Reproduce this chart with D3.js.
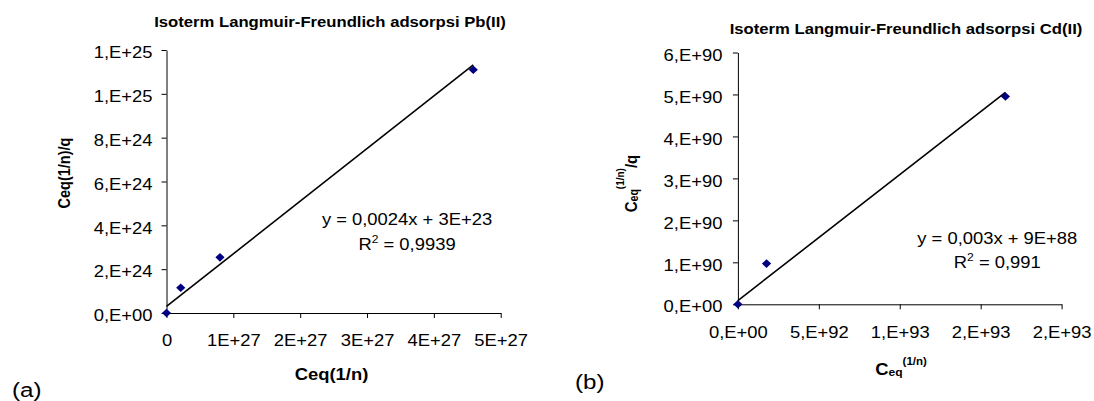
<!DOCTYPE html>
<html><head><meta charset="utf-8">
<script src="https://cdn.jsdelivr.net/npm/d3@7"></script>
<style>
body{margin:0;background:#fff}
svg text{font-family:Arial,"Liberation Sans",sans-serif;fill:#000}
</style>
</head><body>
<svg id="c" width="1094" height="401"></svg>
<script>
// ---------- DATA ----------
// Panel (a): Pb(II)
const pbTitle = "Isoterm Langmuir-Freundlich adsorpsi Pb(II)";
const pbX = [0, 2.13e26, 8.0e26, 4.59e27];
const pbY = [0, 1.155e24, 2.54e24, 1.11e25];
const pbSlope = 0.0024, pbIntercept = 3e23;
const pbEquation = "y = 0,0024x + 3E+23";
const pbR2 = "0,9939";
const pbXTicks = [0, 1e27, 2e27, 3e27, 4e27, 5e27];
const pbXTickLabels = ["0", "1E+27", "2E+27", "3E+27", "4E+27", "5E+27"];
const pbYTicks = [0, 2e24, 4e24, 6e24, 8e24, 1e25, 1.2e25];
const pbYTickLabels = ["0,E+00", "2,E+24", "4,E+24", "6,E+24", "8,E+24", "1,E+25", "1,E+25"];

// Panel (b): Cd(II)
const cdTitle = "Isoterm Langmuir-Freundlich adsorpsi Cd(II)";
const cdX = [0, 1.77e92, 1.653e93];
const cdY = [0, 0.97e90, 4.95e90];
const cdSlope = 0.003, cdIntercept = 9e88;
const cdEquation = "y = 0,003x + 9E+88";
const cdR2 = "0,991";
const cdXTicks = [0, 5e92, 1e93, 1.5e93, 2e93];
const cdXTickLabels = ["0,E+00", "5,E+92", "1,E+93", "2,E+93", "2,E+93"];
const cdYTicks = [0, 1e90, 2e90, 3e90, 4e90, 5e90, 6e90];
const cdYTickLabels = ["0,E+00", "1,E+90", "2,E+90", "3,E+90", "4,E+90", "5,E+90", "6,E+90"];

// ---------- DRAWING ----------
const SX = 1.15; // horizontal stretch of the original picture
const svg = d3.select("#c");
const FONT = 'Arial, "Liberation Sans", sans-serif';

function txt(g, x, y, s, size, weight, anchor) {
  return g.append("text")
    .attr("transform", `translate(${x},${y}) scale(${SX},1)`)
    .attr("font-size", size).attr("font-weight", weight || "normal")
    .attr("text-anchor", anchor || "middle").text(s);
}

function panel(cfg) {
  const g = svg.append("g");
  const x = d3.scaleLinear().domain([cfg.xTicks[0], cfg.xTicks[cfg.xTicks.length - 1]]).range([cfg.x0, cfg.x1]);
  const y = d3.scaleLinear().domain([cfg.yTicks[0], cfg.yTicks[cfg.yTicks.length - 1]]).range([cfg.y0, cfg.y1]);

  const gx = g.append("g").attr("transform", `translate(0,${cfg.y0})`)
    .call(d3.axisBottom(x).tickValues(cfg.xTicks)
      .tickFormat((d, i) => cfg.xLabels[i]).tickSize(5).tickSizeOuter(0).tickPadding(17));
  const gy = g.append("g").attr("transform", `translate(${cfg.x0},0)`)
    .call(d3.axisLeft(y).tickValues(cfg.yTicks)
      .tickFormat((d, i) => cfg.yLabels[i]).tickSize(5).tickSizeOuter(0).tickPadding(cfg.yPad));
  [gx, gy].forEach(a => {
    a.attr("font-size", 16).attr("font-family", FONT);
    a.selectAll("path,line").attr("stroke", "#000");
    a.selectAll(".tick text").each(function () {
      const t = d3.select(this);
      const tx = +t.attr("x") || 0, ty = +t.attr("y") || 0;
      t.attr("x", null).attr("y", null)
        .attr("transform", `translate(${tx},${ty}) scale(${SX},1)`);
    });
  });
  gy.selectAll(".tick text").attr("dy", "0.48em");

  // trend line
  const xmax = d3.max(cfg.xs);
  g.append("line")
    .attr("x1", x(0)).attr("y1", y(cfg.intercept))
    .attr("x2", x(xmax)).attr("y2", y(cfg.slope * xmax + cfg.intercept))
    .attr("stroke", "#000").attr("stroke-width", 1.6);

  // markers
  g.selectAll("path.pt").data(cfg.xs.map((v, i) => [v, cfg.ys[i]])).join("path")
    .attr("class", "pt")
    .attr("transform", d => `translate(${x(d[0])},${y(d[1])})`)
    .attr("d", "M0,-4.3L4.6,0L0,4.3L-4.6,0Z")
    .attr("fill", "#000080");

  // title
  txt(g, cfg.titleX, cfg.titleY, cfg.title, 14.5, "bold");

  // equation
  txt(g, cfg.eqX, cfg.eqY, cfg.equation, 16);
  const r = txt(g, cfg.eqX, cfg.eqY + cfg.r2dy, "R", 16);
  r.append("tspan").attr("font-size", 10.5).attr("dy", -7).text("2");
  r.append("tspan").attr("dy", 7).text(" = " + cfg.r2);

  return { g, x, y };
}

// ----- panel (a)
const A = panel({
  xTicks: pbXTicks, xLabels: pbXTickLabels, yTicks: pbYTicks, yLabels: pbYTickLabels,
  xs: pbX, ys: pbY, slope: pbSlope, intercept: pbIntercept,
  x0: 166.5, x1: 500.7, y0: 313, y1: 50, yPad: 9,
  title: pbTitle, titleX: 330, titleY: 27.3,
  equation: pbEquation, r2: pbR2, eqX: 407, eqY: 225, r2dy: 25
});
txt(A.g, 331.5, 380, "Ceq(1/n)", 16, "bold");
A.g.append("text")
  .attr("transform", `translate(70,173) scale(${SX},1) rotate(-90)`)
  .attr("font-size", 14.5).attr("font-weight", "bold").attr("text-anchor", "middle")
  .text("Ceq(1/n)/q");
txt(A.g, 12, 397, "(a)", 21, "normal", "start");

// ----- panel (b)
const B = panel({
  xTicks: cdXTicks, xLabels: cdXTickLabels, yTicks: cdYTicks, yLabels: cdYTickLabels,
  xs: cdX, ys: cdY, slope: cdSlope, intercept: cdIntercept,
  x0: 737.9, x1: 1061.6, y0: 304.3, y1: 52.5, yPad: 10.5,
  title: cdTitle, titleX: 906, titleY: 34,
  equation: cdEquation, r2: cdR2, eqX: 997.3, eqY: 243.5, r2dy: 24.5
});
// x title with sub/superscript
const bx = txt(B.g, 901, 375, "C", 16, "bold");
bx.append("tspan").attr("font-size", 10.5).attr("dy", 1).text("eq");
bx.append("tspan").attr("font-size", 10).attr("dy", -10.7).text("(1/n)");
// y title
const by = B.g.append("text")
  .attr("transform", `translate(636.5,183.5) scale(${SX},1) rotate(-90)`)
  .attr("font-size", 15).attr("font-weight", "bold").attr("text-anchor", "middle");
by.append("tspan").text("C");
by.append("tspan").attr("font-size", 10.5).attr("dy", 1).text("eq");
by.append("tspan").attr("font-size", 10).attr("dy", -12).text("(1/n)");
by.append("tspan").attr("dy", 11).text("/q");
txt(B.g, 575, 388.6, "(b)", 21, "normal", "start");
</script>
</body></html>
